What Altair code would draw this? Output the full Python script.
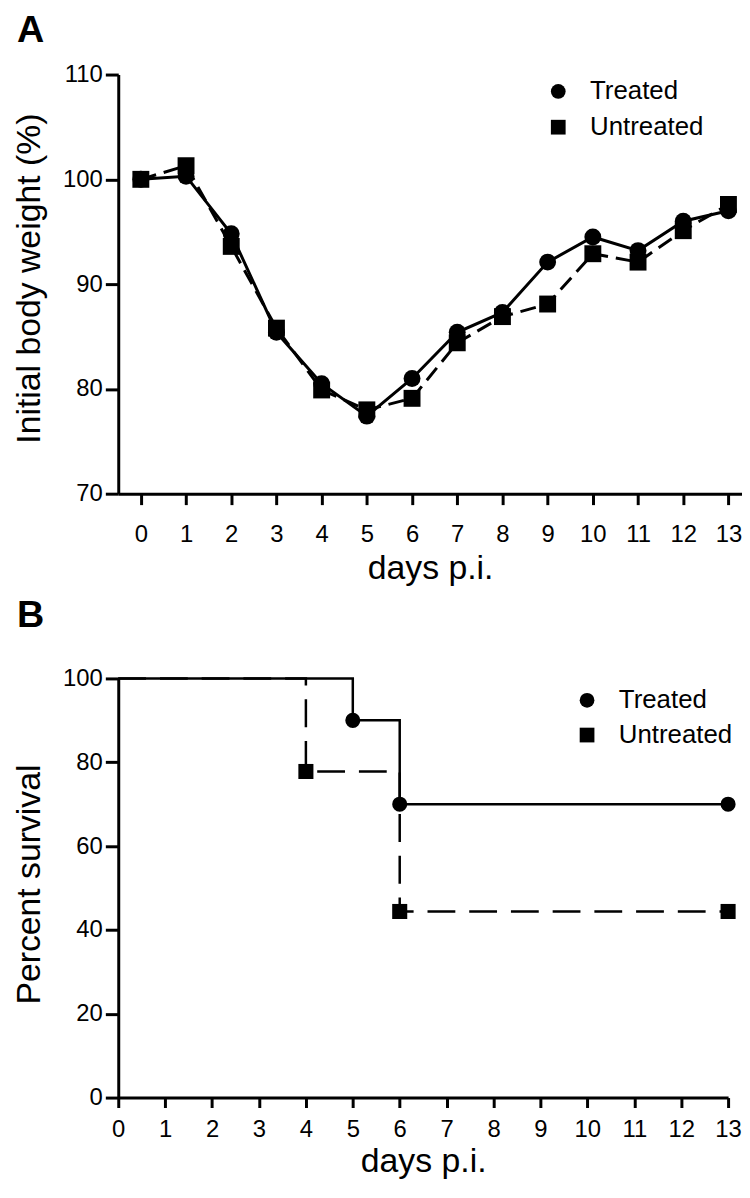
import altair as alt
import pandas as pd

# ---------------- data ----------------
groups = ["Treated", "Untreated"]

days = list(range(14))
treated_weight = [100.0, 100.3, 94.8, 85.4, 80.5, 77.4, 81.0, 85.4, 87.3, 92.1, 94.5, 93.2, 96.0, 97.0]
untreated_weight = [100.0, 101.3, 93.6, 85.8, 79.9, 78.0, 79.1, 84.4, 86.9, 88.1, 92.9, 92.1, 95.1, 97.6]

surv_days_treated = [0, 5, 6, 13]
surv_treated = [100.0, 90.0, 70.0, 70.0]
marker_treated = [False, True, True, True]

surv_days_untreated = [0, 4, 6, 13]
surv_untreated = [100.0, 77.8, 44.4, 44.4]
marker_untreated = [False, True, True, True]

weight_ticks = [70, 80, 90, 100, 110]
surv_ticks = [0, 20, 40, 60, 80, 100]

FONT = "Liberation Sans"

dfA = pd.DataFrame({
    "day": days + days,
    "weight": treated_weight + untreated_weight,
    "group": ["Treated"] * len(days) + ["Untreated"] * len(days),
})
dfB_t = pd.DataFrame({"day": surv_days_treated, "surv": surv_treated,
                      "group": "Treated", "marker": marker_treated})
dfB_u = pd.DataFrame({"day": surv_days_untreated, "surv": surv_untreated,
                      "group": "Untreated", "marker": marker_untreated})
dfB = pd.concat([dfB_t, dfB_u], ignore_index=True)

shape_scale = alt.Scale(domain=groups, range=["circle", "square"])


def axis(title, values, **kw):
    return alt.Axis(
        title=title, values=values, grid=False,
        domainColor="black", domainWidth=3, tickColor="black", tickWidth=3,
        labelFont=FONT, labelFontSize=24,
        labelColor="black", titleFont=FONT, titleFontSize=34,
        titleFontWeight="normal", titleColor="black", labelFlush=False,
        labelOverlap=False, **kw)


def legend(x, y, rowpad):
    return alt.Legend(
        title=None, orient="none", legendX=x, legendY=y, padding=0,
        labelFont=FONT, labelFontSize=26, labelColor="black",
        symbolSize=220, symbolFillColor="black", symbolStrokeColor="black",
        symbolStrokeWidth=0, labelOffset=19, rowPadding=rowpad)


def panel_title(txt, offset):
    return alt.TitleParams(txt, anchor="start", frame="group", font=FONT,
                           fontSize=38, fontWeight="bold", color="black",
                           dx=-102, offset=offset)


# ---------------- panel A ----------------
xA = alt.X("day:Q", scale=alt.Scale(domain=[-0.5, 13.3], nice=False, zero=False),
           axis=axis("days p.i.", days, tickSize=11, labelPadding=18, titlePadding=5))
yA = alt.Y("weight:Q", scale=alt.Scale(domain=[70, 110], nice=False, zero=False),
           axis=axis("Initial body weight (%)", weight_ticks, tickSize=13,
                     labelPadding=3, titlePadding=16, titleY=205))

baseA = alt.Chart(dfA)
lineA_t = baseA.transform_filter(alt.datum.group == "Treated").mark_line(
    color="black", strokeWidth=3).encode(x=xA, y=yA)
lineA_u = baseA.transform_filter(alt.datum.group == "Untreated").mark_line(
    color="black", strokeWidth=3, strokeDash=[16, 8]).encode(x=xA, y=yA)
pointsA = baseA.mark_point(filled=True, color="black", size=290, opacity=1).encode(
    x=xA, y=yA,
    shape=alt.Shape("group:N", scale=shape_scale, legend=legend(430, 4, 10)))

panelA = alt.layer(lineA_t, lineA_u, pointsA).properties(
    width=628, height=422, title=panel_title("A", 13))

# ---------------- panel B ----------------
xB = alt.X("day:Q", scale=alt.Scale(domain=[0, 13], nice=False, zero=False),
           axis=axis("days p.i.", days, tickSize=10, labelPadding=10, titlePadding=3))
yB = alt.Y("surv:Q", scale=alt.Scale(domain=[0, 100], nice=False),
           axis=axis("Percent survival", surv_ticks, tickSize=13,
                     labelPadding=3, titlePadding=16, titleY=207))

baseB = alt.Chart(dfB)
lineB_u = baseB.transform_filter(alt.datum.group == "Untreated").mark_line(
    color="black", strokeWidth=2.5, strokeDash=[28, 14],
    interpolate="step-after").encode(x=xB, y=yB)
lineB_t = baseB.transform_filter(alt.datum.group == "Treated").mark_line(
    color="black", strokeWidth=2.5, interpolate="step-after").encode(x=xB, y=yB)
pointsB = baseB.transform_filter(alt.datum.marker).mark_point(
    filled=True, color="black", size=230, opacity=1).encode(
    x=xB, y=yB,
    shape=alt.Shape("group:N", scale=shape_scale, legend=legend(459, 9, 9)))

panelB = alt.layer(lineB_u, lineB_t, pointsB).properties(
    width=614, height=422, title=panel_title("B", 32))

chart = alt.vconcat(panelA, panelB, spacing=12).resolve_scale(
    shape="independent", x="independent", y="independent"
).resolve_legend(shape="independent").properties(
    padding={"left": 4, "top": 0, "right": 0, "bottom": 0},
    background="white",
).configure_view(stroke=None)

chart.save("out.html", embed_options={"renderer": "svg", "actions": False})
